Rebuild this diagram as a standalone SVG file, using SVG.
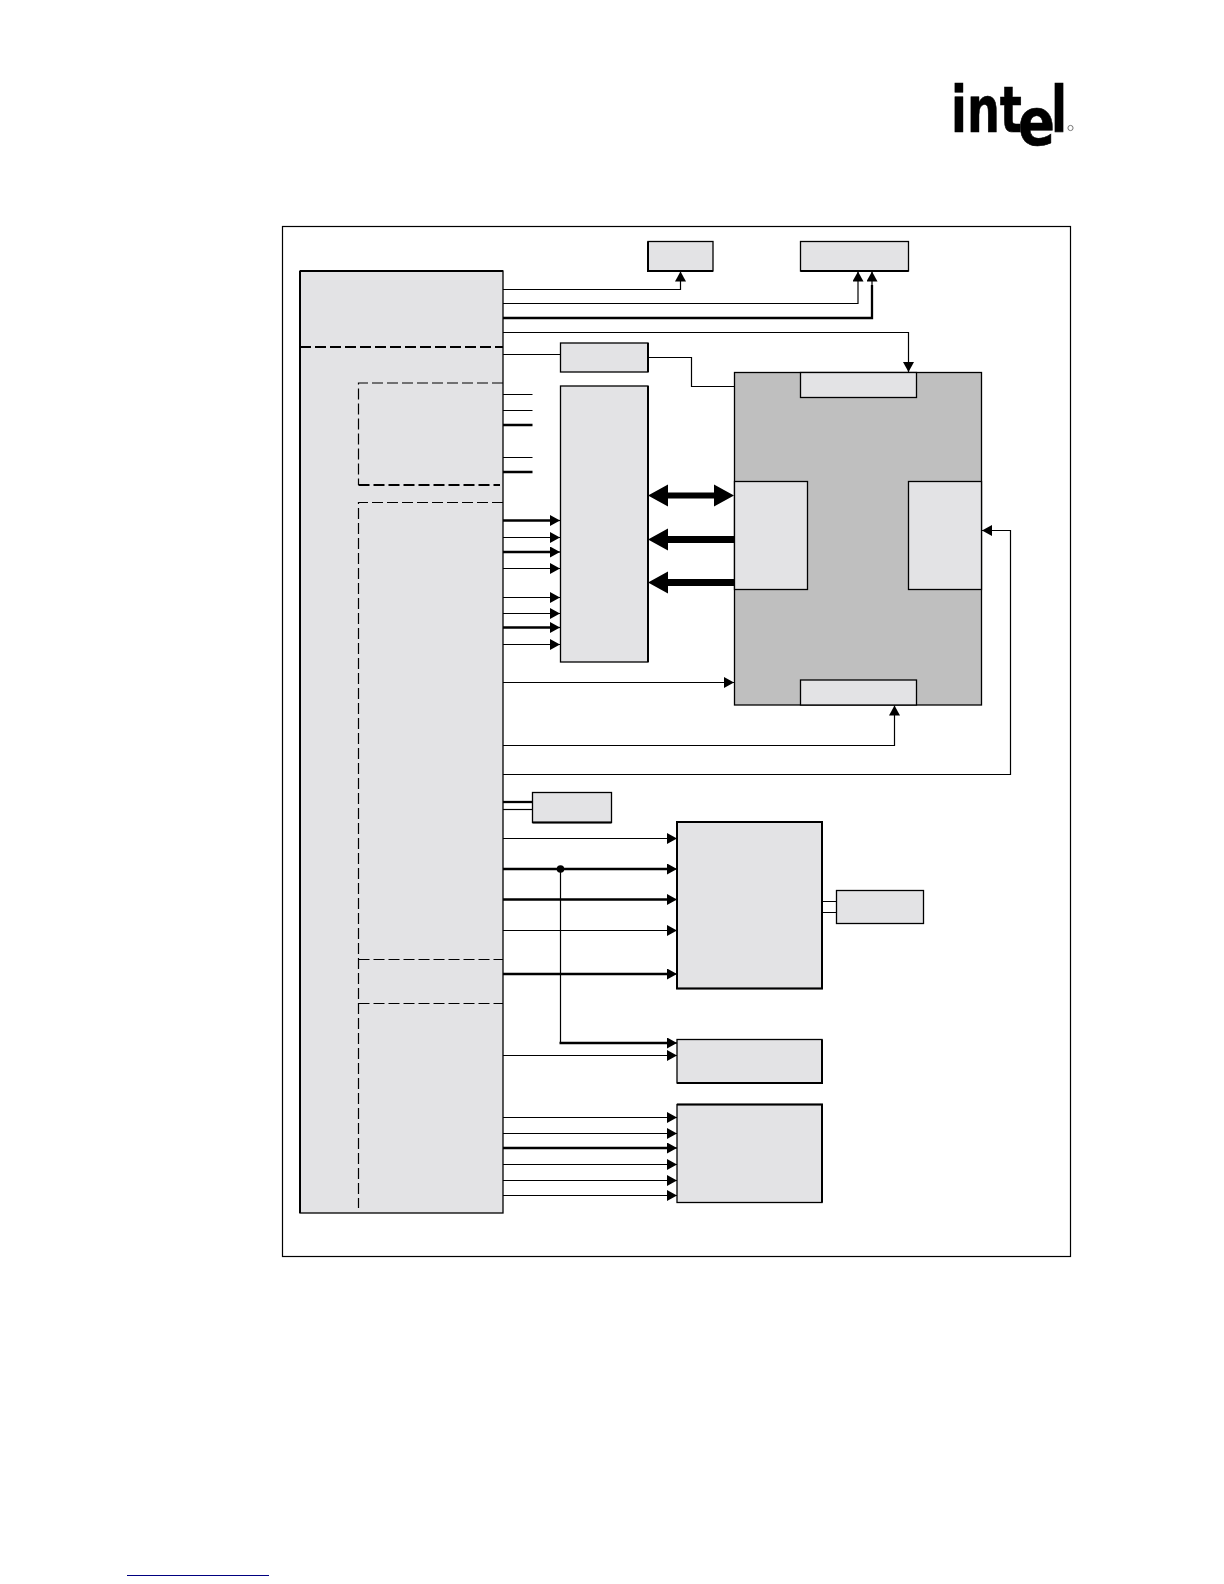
<svg xmlns="http://www.w3.org/2000/svg" width="1224" height="1584" viewBox="0 0 1224 1584">
<style>
.b{fill:#e3e3e5;stroke:#000;stroke-width:1.3}
.k{fill:none;stroke:#000;stroke-width:2}
.g{fill:#bfbfbf;stroke:#000;stroke-width:1.3}
.d{fill:none;stroke:#000;stroke-width:1.2;stroke-dasharray:11 4}
.dk{fill:none;stroke:#000;stroke-width:2;stroke-dasharray:11 4}
.t{fill:none;stroke:#000;stroke-width:1.2}
.h{fill:none;stroke:#000;stroke-width:2.3}
.a{marker-end:url(#ah)}
.s{fill:none;stroke:#000;stroke-width:6.5}
.logo{font-family:"DejaVu Sans","Liberation Sans",sans-serif;font-weight:700;fill:#000;stroke:#000;stroke-width:.6}
</style>
<defs>
<marker id="ah" markerUnits="userSpaceOnUse" markerWidth="11" markerHeight="12" refX="10" refY="5.5" orient="auto"><path d="M0 0L10 5.500L0 11Z" fill="#000"/></marker>
</defs>
<rect width="1224" height="1584" fill="#fff"/>
<g id="logo">
<text class="logo" x="951" y="132" font-size="64" textLength="71" lengthAdjust="spacingAndGlyphs">int</text>
<text class="logo" x="1018" y="145" font-size="66" textLength="37" lengthAdjust="spacingAndGlyphs">e</text>
<text class="logo" x="1051" y="132" font-size="64" textLength="16" lengthAdjust="spacingAndGlyphs">l</text>
<circle cx="1070.500" cy="128" r="2.600" fill="#fff" stroke="#777" stroke-width="1"/>
</g>
<g id="frame"><rect x="282.500" y="226.500" width="788" height="1030" fill="#fff" stroke="#000" stroke-width="1.2"/></g>
<g id="node-main">
<rect class="b" x="300" y="271" width="203" height="942"/>
<path class="k" d="M300 271H503M300 271V1213"/>
<path class="dk" d="M300 347H503"/>
<path class="d" d="M503 383H358.500V485"/>
<path class="dk" d="M358.500 485H500"/>
<path class="d" d="M503 502.500H358.500V1208"/>
<path class="d" d="M358.500 959.500H503M358.500 1003.500H503"/>
</g>
<g id="node-top-a"><rect class="b" x="648" y="241.500" width="65" height="29.500"/><path class="k" d="M648 241.500V271H713"/></g>
<g id="node-top-b"><rect class="b" x="800.500" y="241.500" width="108" height="29.500"/><path class="k" d="M800.500 271H908.500"/></g>
<g id="node-small"><rect class="b" x="560.500" y="343" width="87.500" height="29"/><path class="k" d="M648 343V372"/></g>
<g id="node-tall"><rect class="b" x="560.500" y="386" width="87.500" height="276"/><path class="k" d="M648 386V662"/></g>
<g id="node-core">
<rect class="g" x="734.500" y="372.500" width="247" height="332.500"/>
<rect class="b" x="800.500" y="372.500" width="116" height="25"/>
<rect class="b" x="734.500" y="481.500" width="73" height="108"/>
<rect class="b" x="908.500" y="481.500" width="73" height="108"/>
<rect class="b" x="800.500" y="680" width="116" height="25"/>
</g>
<g id="node-buf"><rect class="b" x="532.500" y="792.500" width="79" height="30"/><path class="k" d="M532.500 822.500H611.500"/></g>
<g id="node-mid"><rect class="b" x="677" y="822" width="145" height="166.500"/><rect class="k" x="677" y="822" width="145" height="166.500"/></g>
<g id="node-right"><rect class="b" x="836.500" y="890.500" width="87" height="33"/></g>
<g id="node-low1"><rect class="b" x="677" y="1039.500" width="145" height="43.500"/><path class="k" d="M677 1083H822V1039.500"/></g>
<g id="node-low2"><rect class="b" x="677" y="1104.500" width="145" height="98"/><path class="k" d="M677 1104.500H822V1202.500"/></g>
<g id="connectors">
<path class="t a" d="M503 289.500H680.500V271.500"/>
<path class="t a" d="M503 303.500H858V271.500"/>
<path class="h" d="M503 318H872V285"/><path class="t a" d="M872 290V271.500"/>
<path class="t a" d="M503 332.500H908.500V372"/>
<path class="t" d="M503 354.500H560.500"/>
<path class="t" d="M648 357.500H691.500V386.500H734.500"/>
<path class="t" d="M503 394.500H532.500M503 410.500H532.500M503 457.500H532.500"/>
<path class="h" d="M503 425H532.500M503 472H532.500"/>
<path class="h" d="M503 520.500H552"/><path class="t a" d="M550 520.500H560"/>
<path class="t a" d="M503 537.500H560"/>
<path class="h" d="M503 552H552"/><path class="t a" d="M550 552H560"/>
<path class="t a" d="M503 568.500H560"/>
<path class="t a" d="M503 597.500H560"/>
<path class="t a" d="M503 613.500H560"/>
<path class="h" d="M503 627.500H552"/><path class="t a" d="M550 627.500H560"/>
<path class="t a" d="M503 644.500H560"/>
<path d="M668 495.500H714" class="s" style="stroke-width:6"/>
<path d="M714 484.500L734 495.500L714 506.500ZM668 484.500L648 495.500L668 506.500Z" fill="#000"/>
<path d="M734 539.500H668" class="s" style="stroke-width:7"/>
<path d="M668 528.500L648 539.500L668 550.500Z" fill="#000"/>
<path d="M734 582.500H668" class="s" style="stroke-width:7"/>
<path d="M668 571.500L648 582.500L668 593.500Z" fill="#000"/>
<path class="t a" d="M503 682.500H734"/>
<path class="t a" d="M503 745.500H894.500V705.500"/>
<path class="t a" d="M503 774.500H1010.500V530.500H982"/>
<path class="h" d="M503 802H532.500"/>
<path class="t" d="M503 809.500H532.500"/>
<path class="t a" d="M503 838.500H677"/>
<path class="h" d="M503 869H669"/><path class="t a" d="M667 869H677"/>
<circle cx="560.500" cy="869" r="3.800" fill="#000"/>
<path class="t" d="M560.500 869V1043"/>
<path class="h" d="M559.500 1043H669"/><path class="t a" d="M667 1043H677"/>
<path class="h" d="M503 899.500H669"/><path class="t a" d="M667 899.500H677"/>
<path class="t a" d="M503 930.500H677"/>
<path class="h" d="M503 974H669"/><path class="t a" d="M667 974H677"/>
<path class="t" d="M822 901.500H836.500M822 912.500H836.500"/>
<path class="t a" d="M503 1055.500H677"/>
<path class="t a" d="M503 1117.500H677"/>
<path class="t a" d="M503 1133.500H677"/>
<path class="h" d="M503 1148H669"/><path class="t a" d="M667 1148H677"/>
<path class="t a" d="M503 1164.500H677"/>
<path class="t a" d="M503 1180.500H677"/>
<path class="t a" d="M503 1195.500H677"/>
</g>
<path id="footnote-rule" d="M127 1575.500H269" stroke="#000080" stroke-width="1.200" fill="none"/>
</svg>
